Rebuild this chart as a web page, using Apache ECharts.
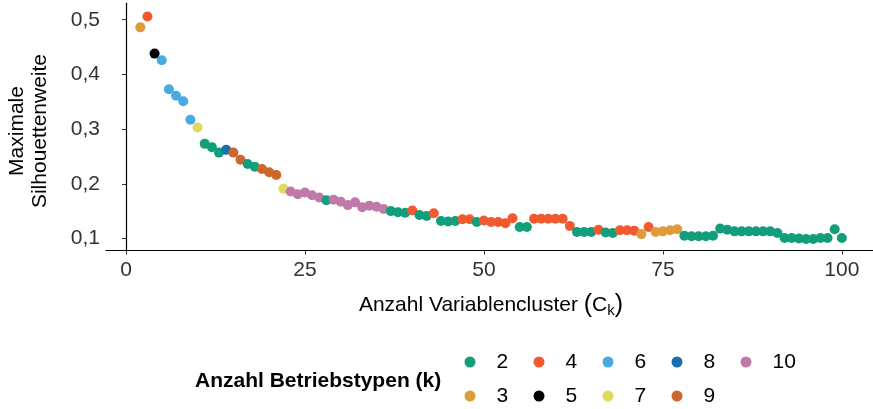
<!DOCTYPE html>
<html>
<head>
<meta charset="utf-8">
<script src="https://cdn.jsdelivr.net/npm/echarts@6/dist/echarts.min.js"></script>
<style>
html,body{margin:0;padding:0;background:#fff;}
#chart{width:873px;height:409px;}
</style>
</head>
<body>
<div id="chart"></div>
<script>
// ---- data ----
const clusterCounts = [2,3,4,5,6,7,8,9,10,11,12,13,14,15,16,17,18,19,20,21,22,23,24,25,26,27,28,29,30,31,32,33,34,35,36,37,38,39,40,41,42,43,44,45,46,47,48,49,50,51,52,53,54,55,56,57,58,59,60,61,62,63,64,65,66,67,68,69,70,71,72,73,74,75,76,77,78,79,80,81,82,83,84,85,86,87,88,89,90,91,92,93,94,95,96,97,98,99,100];
const maxSilhouette = [
  0.486,0.506,0.438,0.426,0.373,0.361,0.351,0.317,0.303,
  0.273,0.267,0.257,0.262,0.257,0.244,0.236,0.231,0.227,0.221,0.216,
  0.191,0.186,0.181,0.184,0.179,0.175,0.170,0.171,0.167,0.161,0.166,
  0.157,0.160,0.158,0.154,0.150,0.148,0.147,0.151,0.143,0.141,0.146,
  0.132,0.131,0.132,0.135,0.135,0.130,0.133,0.130,0.130,0.128,0.137,
  0.121,0.121,0.136,0.136,0.136,0.136,0.136,0.123,0.112,0.112,0.112,
  0.116,0.111,0.110,0.115,0.115,0.114,0.108,0.121,0.112,0.113,0.115,
  0.117,0.105,0.104,0.104,0.104,0.105,0.118,0.116,0.113,0.113,0.113,
  0.113,0.113,0.113,0.110,0.101,0.101,0.100,0.099,0.099,0.101,0.101,
  0.117,0.101
];
const typeCounts = [
  3,4,5,6,6,6,6,6,7,
  2,2,2,8,9,9,2,2,9,9,9,
  7,10,10,10,10,10,2,10,10,10,10,
  10,10,10,10,2,2,2,4,2,2,4,
  2,2,2,4,4,2,4,4,4,4,4,
  2,2,4,4,4,4,4,4,2,2,2,
  4,2,2,4,4,4,3,4,3,3,3,
  3,2,2,2,2,2,2,2,2,2,2,
  2,2,2,2,2,2,2,2,2,2,2,
  2,2
];
const kLevels = [2,3,4,5,6,7,8,9,10];
const xTickValues = [0,25,50,75,100];
const yTickValues = [0.1,0.2,0.3,0.4,0.5];

// ---- styles ----
const kColors = {
  2:'#139E7B', 3:'#DE9C38', 4:'#F05A2E', 5:'#000000', 6:'#45ABE0',
  7:'#DEDA5B', 8:'#1571AE', 9:'#CB672D', 10:'#C07AA8'
};
const FONT = 'Liberation Sans, Arial, sans-serif';

const chart = echarts.init(document.getElementById('chart'), null, {renderer:'canvas'});

const pointData = clusterCounts.map((c,i)=>({
  value:[c, maxSilhouette[i]],
  itemStyle:{color:kColors[typeCounts[i]]}
}));

const series = [{
  type:'scatter', name:'all', data:pointData, symbol:'circle', symbolSize:10,
  itemStyle:{opacity:1}, emphasis:{disabled:true}, z:3
}];
kLevels.forEach(k=>{
  series.push({type:'scatter', name:String(k), data:[], symbol:'circle', symbolSize:10,
    itemStyle:{color:kColors[k], opacity:1}});
});

// legend layout: 5 columns x 2 rows
const colX = [470,539,608,677,746];
const rowY = [362,396];
const legends = kLevels.map((k,i)=>{
  const col = Math.floor(i/2), row = i%2;
  return {
    data:[{name:String(k), icon:'circle', itemStyle:{color:kColors[k], opacity:1}}],
    itemWidth:11, itemHeight:11,
    itemStyle:{opacity:1, borderWidth:0},
    left: colX[col]-5.5, top: rowY[row]-12,
    textStyle:{fontFamily:FONT, fontSize:21, color:'#000', lineHeight:24, padding:[0,0,0,16]},
    selectedMode:false, padding:0
  };
});

const option = {
  animation:false,
  backgroundColor:'#fff',
  grid:{left:106, right:0, top:3.3, bottom:158.5, containLabel:false},
  xAxis:{
    type:'value', min:-2.79, max:104.35,
    axisLine:{show:true, lineStyle:{color:'#000', width:1.2}},
    axisTick:{show:true, length:4, lineStyle:{color:'#333'}, customValues:xTickValues},
    axisLabel:{show:true, customValues:xTickValues, fontFamily:FONT, fontSize:21, color:'#333', margin:9},
    splitLine:{show:false}
  },
  yAxis:{
    type:'value', min:0.078, max:0.53,
    axisLine:{show:true, lineStyle:{color:'#000', width:1.2}},
    axisTick:{show:true, length:4, lineStyle:{color:'#333'}, customValues:yTickValues},
    axisLabel:{show:true, customValues:yTickValues, fontFamily:FONT, fontSize:21, color:'#333', margin:6,
      formatter:v=>v.toFixed(1).replace('.',',')},
    splitLine:{show:false}
  },
  legend:legends,
  graphic:[
    {type:'text', x:29, y:131, rotation:Math.PI/2,
      style:{text:'Maximale\nSilhouettenweite', fontFamily:FONT, fontSize:21, fill:'#000',
        align:'center', verticalAlign:'middle', lineHeight:23}},
    {type:'text', x:491, y:305,
      style:{text:'Anzahl Variablencluster {p|(}C{sub|k}{p|)}', fontFamily:FONT, fontSize:21, fill:'#000',
        align:'center', verticalAlign:'middle',
        rich:{p:{fontFamily:FONT, fontSize:25, fill:'#000'}, sub:{fontFamily:FONT, fontSize:15, fill:'#000', padding:[11,0,0,0]}}}},
    {type:'text', x:195, y:381,
      style:{text:'Anzahl Betriebstypen (k)', fontFamily:FONT, fontSize:21, fontWeight:'bold', fill:'#000',
        align:'left', verticalAlign:'middle'}}
  ],
  series:series
};
chart.setOption(option);
</script>
</body>
</html>
